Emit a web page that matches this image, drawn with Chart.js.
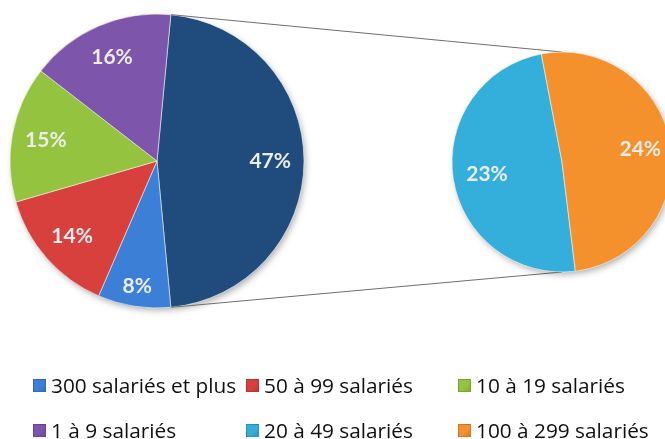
<!DOCTYPE html>
<html><head><meta charset="utf-8">
<script src="https://cdn.jsdelivr.net/npm/chart.js@4/dist/chart.umd.min.js"></script>
<style>
html,body{margin:0;padding:0;background:#fff;overflow:hidden;width:665px;height:439px}
#wrap{position:relative;width:665px;height:439px;overflow:hidden}
canvas{position:absolute;left:0;top:0}
#legend{position:absolute;left:0;top:0;width:665px;height:439px;font-family:"Open Sans",Lato,sans-serif;font-size:20.8px;color:#111}
.item{position:absolute;display:flex;align-items:center;white-space:nowrap;height:24px;line-height:24px}
.box{width:13px;height:13px;margin-right:5px;box-sizing:border-box;border:1px solid rgba(0,0,0,0.15)}
</style></head>
<body>
<div id="wrap">
<canvas id="left" width="665" height="439"></canvas>
<canvas id="right" width="665" height="439"></canvas>
<div id="legend"></div>
</div>
<script>
// ---- data ----
const categories = ['300 salariés et plus','50 à 99 salariés','10 à 19 salariés','1 à 9 salariés','20 à 49 salariés','100 à 299 salariés'];
const values = [8, 14, 15, 16, 23, 24];               // % of companies
const firstPieCats = [0, 1, 2, 3];                    // shown in the main pie
const secondPieCats = [4, 5];                         // shown in the secondary pie
const colors = ['#3c7fd6','#d8403d','#93c33f','#7d55ab','#34aedb','#f4912c'];
const otherColor = '#1f4b7d';

// ---- derived series ----
const secondValues = secondPieCats.map(i => values[i]);
const otherValue = secondValues.reduce((a,b)=>a+b,0);
const firstValues = [otherValue].concat(firstPieCats.map(i => values[i]));
const firstColors = [otherColor].concat(firstPieCats.map(i => colors[i]));
const secondColors = secondPieCats.map(i => colors[i]);
const total = firstValues.reduce((a,b)=>a+b,0);
const leftRotation = 90 - (otherValue/total*360)/2;

const shadowPlugin = {
  id:'pieShadow',
  beforeDatasetsDraw(chart){
    const arc = chart.getDatasetMeta(0).data[0];
    const p = arc.getProps(['x','y','outerRadius'], true);
    const ctx = chart.ctx;
    ctx.save();
    ctx.shadowColor = 'rgba(0,0,0,0.35)'; ctx.shadowBlur = 7; ctx.shadowOffsetX = 2; ctx.shadowOffsetY = 3;
    ctx.fillStyle = '#888';
    ctx.beginPath(); ctx.arc(p.x, p.y, p.outerRadius-1, 0, Math.PI*2); ctx.fill();
    ctx.restore();
  }
};

const labelPlugin = {
  id:'sliceLabels',
  afterDatasetsDraw(chart, args, opts){
    const ctx = chart.ctx, meta = chart.getDatasetMeta(0);
    ctx.save();
    ctx.font = opts.font; ctx.fillStyle = opts.color;
    ctx.textAlign = 'center'; ctx.textBaseline = 'middle';
    meta.data.forEach((arc,i)=>{
      const p = arc.getProps(['x','y','startAngle','endAngle','outerRadius'], true);
      const mid = (p.startAngle+p.endAngle)/2, f = opts.radii[i];
      ctx.fillText(opts.texts[i], p.x+Math.cos(mid)*p.outerRadius*f, p.y+Math.sin(mid)*p.outerRadius*f);
    });
    ctx.restore();
  }
};

const leftChart = new Chart(document.getElementById('left'), {
  type:'pie',
  data:{ labels:['Autres'].concat(firstPieCats.map(i=>categories[i])),
    datasets:[{ data:firstValues, backgroundColor:firstColors, borderColor:'rgba(255,255,255,0.55)', borderWidth:1 }]},
  options:{ responsive:false, animation:false, devicePixelRatio:1,
    radius:147, rotation:leftRotation,
    layout:{ padding:{ left:0, top:0, right:351, bottom:117 } },
    plugins:{ legend:{display:false}, tooltip:{enabled:false},
      sliceLabels:{ font:'bold 21px Lato, "Open Sans", sans-serif', color:'#ececec',
        texts:firstValues.map(v=>v+'%'), radii:[0.77,0.86,0.77,0.77,0.77] } } },
  plugins:[shadowPlugin, labelPlugin]
});

const connectorPlugin = {
  id:'connectors',
  beforeDatasetsDraw(chart){
    const other = leftChart.getDatasetMeta(0).data[0];
    const a = other.getProps(['x','y','startAngle','endAngle','outerRadius'], true);
    const b = chart.getDatasetMeta(0).data[0].getProps(['x','y','outerRadius'], true);
    const ctx = chart.ctx;
    ctx.save(); ctx.strokeStyle = '#6f6f6f'; ctx.lineWidth = 1;
    ctx.beginPath();
    ctx.moveTo(a.x+Math.cos(a.startAngle)*a.outerRadius, a.y+Math.sin(a.startAngle)*a.outerRadius);
    ctx.lineTo(b.x, b.y-b.outerRadius);
    ctx.moveTo(a.x+Math.cos(a.endAngle)*a.outerRadius, a.y+Math.sin(a.endAngle)*a.outerRadius);
    ctx.lineTo(b.x, b.y+b.outerRadius);
    ctx.stroke(); ctx.restore();
  }
};

new Chart(document.getElementById('right'), {
  type:'pie',
  data:{ labels:secondPieCats.map(i=>categories[i]),
    datasets:[{ data:secondValues, backgroundColor:secondColors, borderColor:'rgba(255,255,255,0.55)', borderWidth:1, clip:false }]},
  options:{ responsive:false, animation:false, devicePixelRatio:1,
    radius:110, rotation:173,
    layout:{ padding:{ left:459, top:52, right:0, bottom:167 } },
    plugins:{ legend:{display:false}, tooltip:{enabled:false},
      sliceLabels:{ font:'bold 21px Lato, "Open Sans", sans-serif', color:'#ececec',
        texts:secondValues.map(v=>v+'%'), radii:[0.69,0.72] } } },
  plugins:[connectorPlugin, shadowPlugin, labelPlugin]
});

// ---- legend (HTML text) ----
const legendCols = [33, 246, 458];
const legendRows = [385, 430];
const lg = document.getElementById('legend');
categories.forEach((c,i)=>{
  const d = document.createElement('div');
  d.className = 'item';
  d.style.left = legendCols[i%3]+'px';
  d.style.top = (legendRows[Math.floor(i/3)]-12)+'px';
  const bx = document.createElement('span');
  bx.className = 'box';
  bx.style.background = 'linear-gradient(135deg, '+colors[i]+' 0%, '+colors[i]+' 60%, rgba(0,0,0,0.25) 140%)';
  bx.style.backgroundColor = colors[i];
  const t = document.createElement('span');
  t.textContent = c;
  d.appendChild(bx); d.appendChild(t);
  lg.appendChild(d);
});
</script>
</body></html>
